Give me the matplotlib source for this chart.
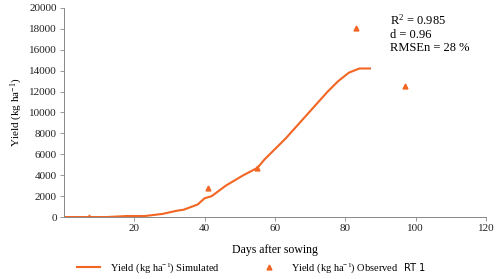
import matplotlib
matplotlib.use('Agg')
import matplotlib.pyplot as plt

# simulated yield curve
sim_days = [0, 12, 18, 23, 28, 32, 34, 38, 40, 42, 46, 51, 55, 57, 60, 63, 67, 71, 75, 78, 81, 84, 87]
sim_yield = [0, 0, 100, 100, 300, 600, 700, 1200, 1800, 2000, 3000, 4000, 4700, 5500, 6500, 7500,
             9000, 10500, 12000, 13000, 13800, 14200, 14200]

# observed points
obs_days = [7, 41, 55, 83, 97]
obs_yield = [0, 2800, 4700, 18100, 12500]

orange = '#F26522'
grey = '#888888'

plt.rcParams['font.family'] = 'Liberation Serif'
plt.rcParams['mathtext.fontset'] = 'custom'
plt.rcParams['mathtext.rm'] = 'Liberation Serif'
plt.rcParams['mathtext.it'] = 'Liberation Serif:italic'
plt.rcParams['mathtext.bf'] = 'Liberation Serif:bold'

fig = plt.figure(figsize=(5, 2.79), dpi=100)
ax = fig.add_axes([0.128, 0.222, 0.844, 0.75])

ax.plot(sim_days, sim_yield, color=orange, lw=1.5, label='Yield (kg ha$^{-1}$) Simulated')
ax.plot(obs_days, obs_yield, ls='none', marker='^', ms=3.5, color=orange,
        label='Yield (kg ha$^{-1}$) Observed')

ax.set_xlim(0, 120)
ax.set_ylim(0, 20000)
ax.set_xticks([20, 40, 60, 80, 100, 120])
ax.set_yticks(range(0, 20001, 2000))
ax.tick_params(labelsize=8, color=grey, length=3, width=0.6, pad=2, labelcolor='#222222')
for s in ['top', 'right']:
    ax.spines[s].set_visible(False)
for s in ['left', 'bottom']:
    ax.spines[s].set_color(grey)
    ax.spines[s].set_linewidth(0.7)

ax.set_xlabel('Days after sowing', fontsize=8.5, labelpad=8)
ax.set_ylabel('Yield (kg ha$^{-1}$)', fontsize=8, labelpad=3)

ax.text(0.772, 0.975, 'R$^2$ = 0.985\nd = 0.96\nRMSEn = 28 %', transform=ax.transAxes,
        fontsize=9, va='top', ha='left', linespacing=1.15)

leg = fig.legend(loc='center left', bbox_to_anchor=(0.154, 1 - 268 / 279), ncol=2, frameon=False,
                 fontsize=7.5, columnspacing=3.6, handlelength=2.2, handletextpad=1.0,
                 borderpad=0, borderaxespad=0)
fig.text(0.808, 1 - 268 / 279, 'RT 1', fontsize=7, family='DejaVu Sans', va='center')

fig.savefig('out.png', dpi=100)
